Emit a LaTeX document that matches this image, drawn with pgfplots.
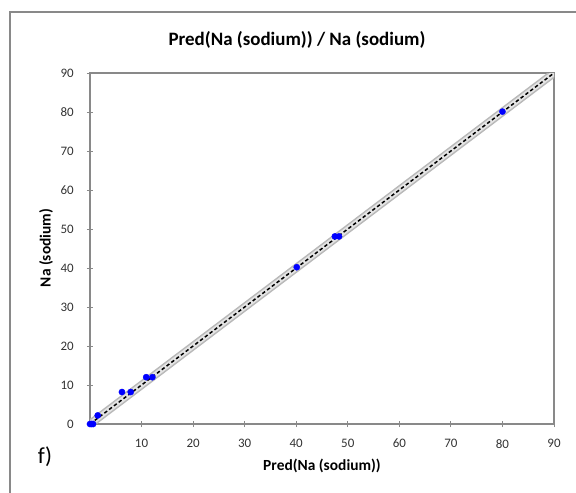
\documentclass[border=0pt]{standalone}
\usepackage{fontspec}
\setmainfont{Carlito}
\usepackage{pgfplots}
\pgfplotsset{compat=1.18}
\definecolor{axgray}{RGB}{137,137,137}
\definecolor{bandgray}{RGB}{185,185,185}
\definecolor{bandfill}{RGB}{228,228,228}
\begin{document}
\begin{tikzpicture}
\begin{axis}[
  scale only axis,
  width=464bp, height=351bp,
  xmin=0, xmax=90, ymin=0, ymax=90,
  xtick={0,10,...,90}, ytick={0,10,...,90},
  xticklabels={,10,20,30,40,50,60,70,80,90},
  xtick pos=bottom, ytick pos=left,
  axis line style={axgray, line width=1.2bp},
  tick style={axgray, line width=0.9bp},
  major tick length=6bp,
  tick align=center,
  /pgf/number format/assume math mode=true,
  ticklabel style={font=\fontsize{13}{15}\selectfont, text=black!80},
  yticklabel style={inner sep=0pt, anchor=east, xshift=-13bp},
  xticklabel style={inner sep=0pt, anchor=north, yshift=-12bp},
]
\addplot[draw=none, fill=bandfill] coordinates {(0,-1.1) (91.1,90) (90,91.1) (-1.1,0)} -- cycle;
\addplot[bandgray, line width=1.4bp] coordinates {(0,-1.1) (91.1,90)};
\addplot[bandgray, line width=1.4bp] coordinates {(-1.1,0) (90,91.1)};
\addplot[black, line width=1.5bp, dash pattern=on 3.5bp off 2.5bp] coordinates {(0,0) (90,90)};
\addplot[only marks, mark=*, mark size=3.1bp, color={rgb,255:red,0;green,0;blue,255}] coordinates {
(0,0) (0.3,0) (0.6,0) (1.5,2.2) (6.2,8.2) (7.9,8.2) (10.9,12) (12.1,12) (40.1,40.2) (47.5,48.1) (48.3,48.1) (80,80.1)
};
\coordinate (O) at (rel axis cs:0,0);
\end{axis}
\draw[axgray, line width=1.2bp] ([shift={(-80bp,-80bp)}]O) -- ([shift={(-80bp,412bp)}]O) -- ([shift={(500bp,412bp)}]O);
\node[font=\fontsize{19}{22}\selectfont\bfseries] at ([shift={(207bp,384bp)}]O) {Pred(Na (sodium)) / Na (sodium)};
\node[font=\fontsize{15.5}{18}\selectfont\bfseries] at ([shift={(232bp,-42bp)}]O) {Pred(Na (sodium))};
\node[font=\fontsize{15.5}{18}\selectfont\bfseries, rotate=90] at ([shift={(-44bp,176bp)}]O) {Na (sodium)};
\node[font=\fontsize{23}{25}\selectfont] at ([shift={(-45bp,-33bp)}]O) {f)};
\pgfresetboundingbox
\path[use as bounding box] ([shift={(-90bp,-69bp)}]O) rectangle ([shift={(486bp,424bp)}]O);
\end{tikzpicture}
\end{document}
